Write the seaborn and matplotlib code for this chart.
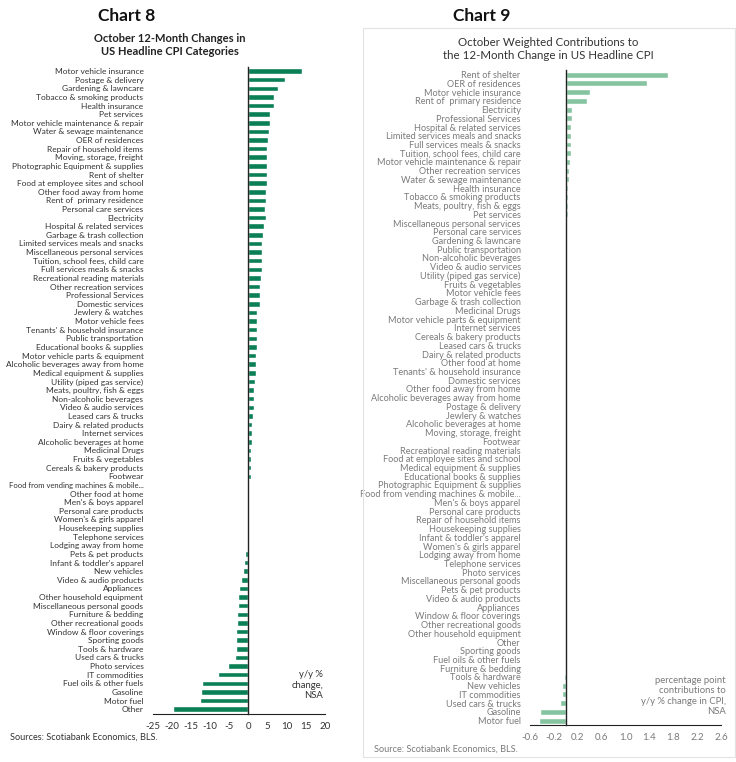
import matplotlib
matplotlib.use("Agg")
import matplotlib.pyplot as plt
import seaborn as sns
import pandas as pd
from matplotlib.patches import Rectangle

# ---------------- data ----------------
left_categories = [
    "Motor vehicle insurance", "Postage & delivery", "Gardening & lawncare",
    "Tobacco & smoking products", "Health insurance", "Pet services",
    "Motor vehicle maintenance & repair", "Water & sewage maintenance",
    "OER of residences", "Repair of household items", "Moving, storage, freight",
    "Photographic Equipment & supplies", "Rent of shelter",
    "Food at employee sites and school", "Other food away from home",
    "Rent of  primary residence", "Personal care services", "Electricity",
    "Hospital & related services", "Garbage & trash collection",
    "Limited services meals and snacks", "Miscellaneous personal services",
    "Tuition, school fees, child care", "Full services meals & snacks",
    "Recreational reading materials", "Other recreation services",
    "Professional Services", "Domestic services", "Jewlery & watches",
    "Motor vehicle fees", "Tenants' & household insurance",
    "Public transportation", "Educational books & supplies",
    "Motor vehicle parts & equipment", "Alcoholic beverages away from home",
    "Medical equipment & supplies", "Utility (piped gas service)",
    "Meats, poultry, fish & eggs", "Non-alcoholic beverages",
    "Video & audio services", "Leased cars & trucks", "Dairy & related products",
    "Internet services", "Alcoholic beverages at home", "Medicinal Drugs",
    "Fruits & vegetables", "Cereals & bakery products", "Footwear",
    "Food from vending machines & mobile...", "Other food at home",
    "Men's & boys apparel", "Personal care products", "Women's & girls apparel",
    "Housekeeping supplies", "Telephone services", "Lodging away from home",
    "Pets & pet products", "Infant & toddler's apparel", "New vehicles",
    "Video & audio products", "Appliances", "Other household equipment",
    "Miscellaneous personal goods", "Furniture & bedding",
    "Other recreational goods", "Window & floor coverings", "Sporting goods",
    "Tools & hardware", "Used cars & trucks", "Photo services", "IT commodities",
    "Fuel oils & other fuels", "Gasoline", "Motor fuel", "Other",
]
left_values = [
    14.0, 9.6, 7.8, 6.6, 6.6, 5.8, 5.6, 5.3, 5.2, 4.9, 4.9, 4.9, 4.9, 4.9,
    4.6, 4.6, 4.4, 4.5, 4.2, 3.9, 3.6, 3.6, 3.6, 3.6, 3.3, 3.0, 3.0, 3.0,
    2.4, 2.4, 2.2, 2.2, 2.2, 2.1, 2.1, 1.9, 1.8, 1.6, 1.5, 1.4, 1.2, 1.0,
    0.9, 0.9, 0.7, 0.7, 0.7, 0.6, 0.3, 0.1, 0.05, 0.0, -0.05, -0.1, -0.12,
    -0.15, -0.8, -1.0, -1.4, -2.0, -2.5, -2.6, -2.6, -2.9, -2.9, -3.1, -3.1,
    -3.3, -3.5, -5.3, -7.8, -12.0, -12.4, -12.6, -19.8,
]

right_categories = [
    "Rent of shelter", "OER of residences", "Motor vehicle insurance",
    "Rent of  primary residence", "Electricity", "Professional Services",
    "Hospital & related services", "Limited services meals and snacks",
    "Full services meals & snacks", "Tuition, school fees, child care",
    "Motor vehicle maintenance & repair", "Other recreation services",
    "Water & sewage maintenance", "Health insurance",
    "Tobacco & smoking products", "Meats, poultry, fish & eggs", "Pet services",
    "Miscellaneous personal services", "Personal care services",
    "Gardening & lawncare", "Public transportation", "Non-alcoholic beverages",
    "Video & audio services", "Utility (piped gas service)",
    "Fruits & vegetables", "Motor vehicle fees", "Garbage & trash collection",
    "Medicinal Drugs", "Motor vehicle parts & equipment", "Internet services",
    "Cereals & bakery products", "Leased cars & trucks",
    "Dairy & related products", "Other food at home",
    "Tenants' & household insurance", "Domestic services",
    "Other food away from home", "Alcoholic beverages away from home",
    "Postage & delivery", "Jewlery & watches", "Alcoholic beverages at home",
    "Moving, storage, freight", "Footwear", "Recreational reading materials",
    "Food at employee sites and school", "Medical equipment & supplies",
    "Educational books & supplies", "Photographic Equipment & supplies",
    "Food from vending machines & mobile...", "Men's & boys apparel",
    "Personal care products", "Repair of household items",
    "Housekeeping supplies", "Infant & toddler's apparel",
    "Women's & girls apparel", "Lodging away from home", "Telephone services",
    "Photo services", "Miscellaneous personal goods", "Pets & pet products",
    "Video & audio products", "Appliances", "Window & floor coverings",
    "Other recreational goods", "Other household equipment", "Other",
    "Sporting goods", "Fuel oils & other fuels", "Furniture & bedding",
    "Tools & hardware", "New vehicles", "IT commodities", "Used cars & trucks",
    "Gasoline", "Motor fuel",
]
right_values = [
    1.71, 1.36, 0.40, 0.36, 0.11, 0.105, 0.095, 0.085, 0.083, 0.08, 0.07,
    0.06, 0.055, 0.045, 0.04, 0.035, 0.03, 0.028, 0.027, 0.025, 0.022, 0.021,
    0.02, 0.018, 0.017, 0.016, 0.015, 0.014, 0.013, 0.012, 0.011, 0.010,
    0.009, 0.008, 0.008, 0.007, 0.007, 0.006, 0.006, 0.005, 0.005, 0.004,
    0.004, 0.003, 0.003, 0.002, 0.002, 0.001, 0.001, 0.0, 0.0, 0.0, -0.0005,
    -0.001, -0.001, -0.002, -0.002, -0.003, -0.004, -0.005, -0.006, -0.007,
    -0.008, -0.009, -0.010, -0.011, -0.013, -0.015, -0.02, -0.022, -0.056,
    -0.065, -0.09, -0.43, -0.45,
]

left_xticks = [-25, -20, -15, -10, -5, 0, 5, 10, 15, 20]
right_xticks = [-0.6, -0.2, 0.2, 0.6, 1.0, 1.4, 1.8, 2.2, 2.6]

# ---------------- style ----------------
sns.set_style("white")
plt.rcParams["font.family"] = ["Lato", "DejaVu Sans"]
plt.rcParams["axes.unicode_minus"] = False

W, H = 736, 762
fig = plt.figure(figsize=(W / 100, H / 100), dpi=100)


def px(x, y):
    return x / W, 1 - y / H


LEFT_COLOR = "#0b8056"
RIGHT_COLOR = "#86c4a1"

# ---------------- left chart ----------------
ax1 = fig.add_axes([152.7 / W, 1 - 713.5 / H, (324.8 - 152.7) / W, (713.5 - 66.7) / H])
df1 = pd.DataFrame({"category": left_categories, "value": left_values})
sns.barplot(data=df1, x="value", y="category", orient="h", color=LEFT_COLOR,
            saturation=1, width=0.64, ax=ax1)
ax1.set_xlim(-25, 20)
ax1.set_xticks(left_xticks)
ax1.set_xticklabels([str(t) for t in left_xticks])
ax1.set_xlabel("")
ax1.set_ylabel("")
for s in ["top", "right"]:
    ax1.spines[s].set_visible(False)
ax1.spines["left"].set_position(("data", 0))
ax1.spines["left"].set_color("#222222")
ax1.spines["left"].set_linewidth(1.0)
ax1.spines["bottom"].set_color("#222222")
ax1.spines["bottom"].set_linewidth(0.8)
ax1.tick_params(axis="y", direction="inout", length=3, width=0.6, color="#222222",
                pad=74, labelsize=6.05, labelcolor="#333333")
ax1.tick_params(axis="x", direction="out", length=3, width=0.6, color="#222222",
                pad=3, labelsize=7, labelcolor="#333333")
ax1.set_facecolor("none")
for lab in ax1.get_yticklabels():
    if len(lab.get_text()) > 36:
        lab.set_fontsize(5.5)

# ---------------- right chart ----------------
ax2 = fig.add_axes([530 / W, 1 - 725 / H, 191 / W, (725 - 70.3) / H])
df2 = pd.DataFrame({"category": right_categories, "value": right_values})
sns.barplot(data=df2, x="value", y="category", orient="h", color=RIGHT_COLOR,
            saturation=1, width=0.68, ax=ax2)
ax2.set_xlim(-0.6, 2.6)
ax2.set_xticks(right_xticks)
ax2.set_xticklabels([f"{t:.1f}" for t in right_xticks])
ax2.set_xlabel("")
ax2.set_ylabel("")
for s in ["top", "right"]:
    ax2.spines[s].set_visible(False)
ax2.spines["left"].set_position(("data", 0))
ax2.spines["left"].set_color("#222222")
ax2.spines["left"].set_linewidth(1.0)
ax2.spines["bottom"].set_color("#222222")
ax2.spines["bottom"].set_linewidth(0.8)
ax2.tick_params(axis="y", direction="inout", length=3, width=0.6, color="#222222",
                pad=31, labelsize=6.6, labelcolor="#7a7a7a")
ax2.tick_params(axis="x", direction="out", length=3, width=0.6, color="#222222",
                pad=3, labelsize=7, labelcolor="#7a7a7a")
ax2.set_facecolor("none")

# frame around right panel
fig.patches.append(Rectangle(px(363, 757), (735 - 363) / W, (757 - 28) / H,
                             transform=fig.transFigure, fill=False,
                             edgecolor="#e2e2e2", linewidth=0.8))

# ---------------- texts ----------------
fig.text(*px(127, 16), "Chart 8", ha="center", va="center", fontsize=12.5,
         fontweight="bold", color="#111111")
fig.text(*px(170, 45), "October 12-Month Changes in\nUS Headline CPI Categories",
         ha="center", va="center", fontsize=8, fontweight="bold",
         color="#222222", linespacing=1.25)
fig.text(*px(482, 16), "Chart 9", ha="center", va="center", fontsize=12.5,
         fontweight="bold", color="#111111")
fig.text(*px(548, 49), "October Weighted Contributions to\nthe 12-Month Change in US Headline CPI",
         ha="center", va="center", fontsize=8.3, color="#333333", linespacing=1.3)

fig.text(*px(323, 685), "y/y %\nchange,\nNSA", ha="right", va="center",
         fontsize=6.8, color="#333333", linespacing=1.15)
fig.text(*px(726, 696), "percentage point\ncontributions to\ny/y % change in CPI,\nNSA",
         ha="right", va="center", fontsize=6.8, color="#7a7a7a", linespacing=1.15)

fig.text(*px(10, 737), "Sources: Scotiabank Economics, BLS.", ha="left", va="center",
         fontsize=6.6, color="#333333")
fig.text(*px(374, 749), "Source: Scotiabank Economics, BLS.", ha="left", va="center",
         fontsize=6.6, color="#7a7a7a")

fig.savefig("out.png", dpi=100)
